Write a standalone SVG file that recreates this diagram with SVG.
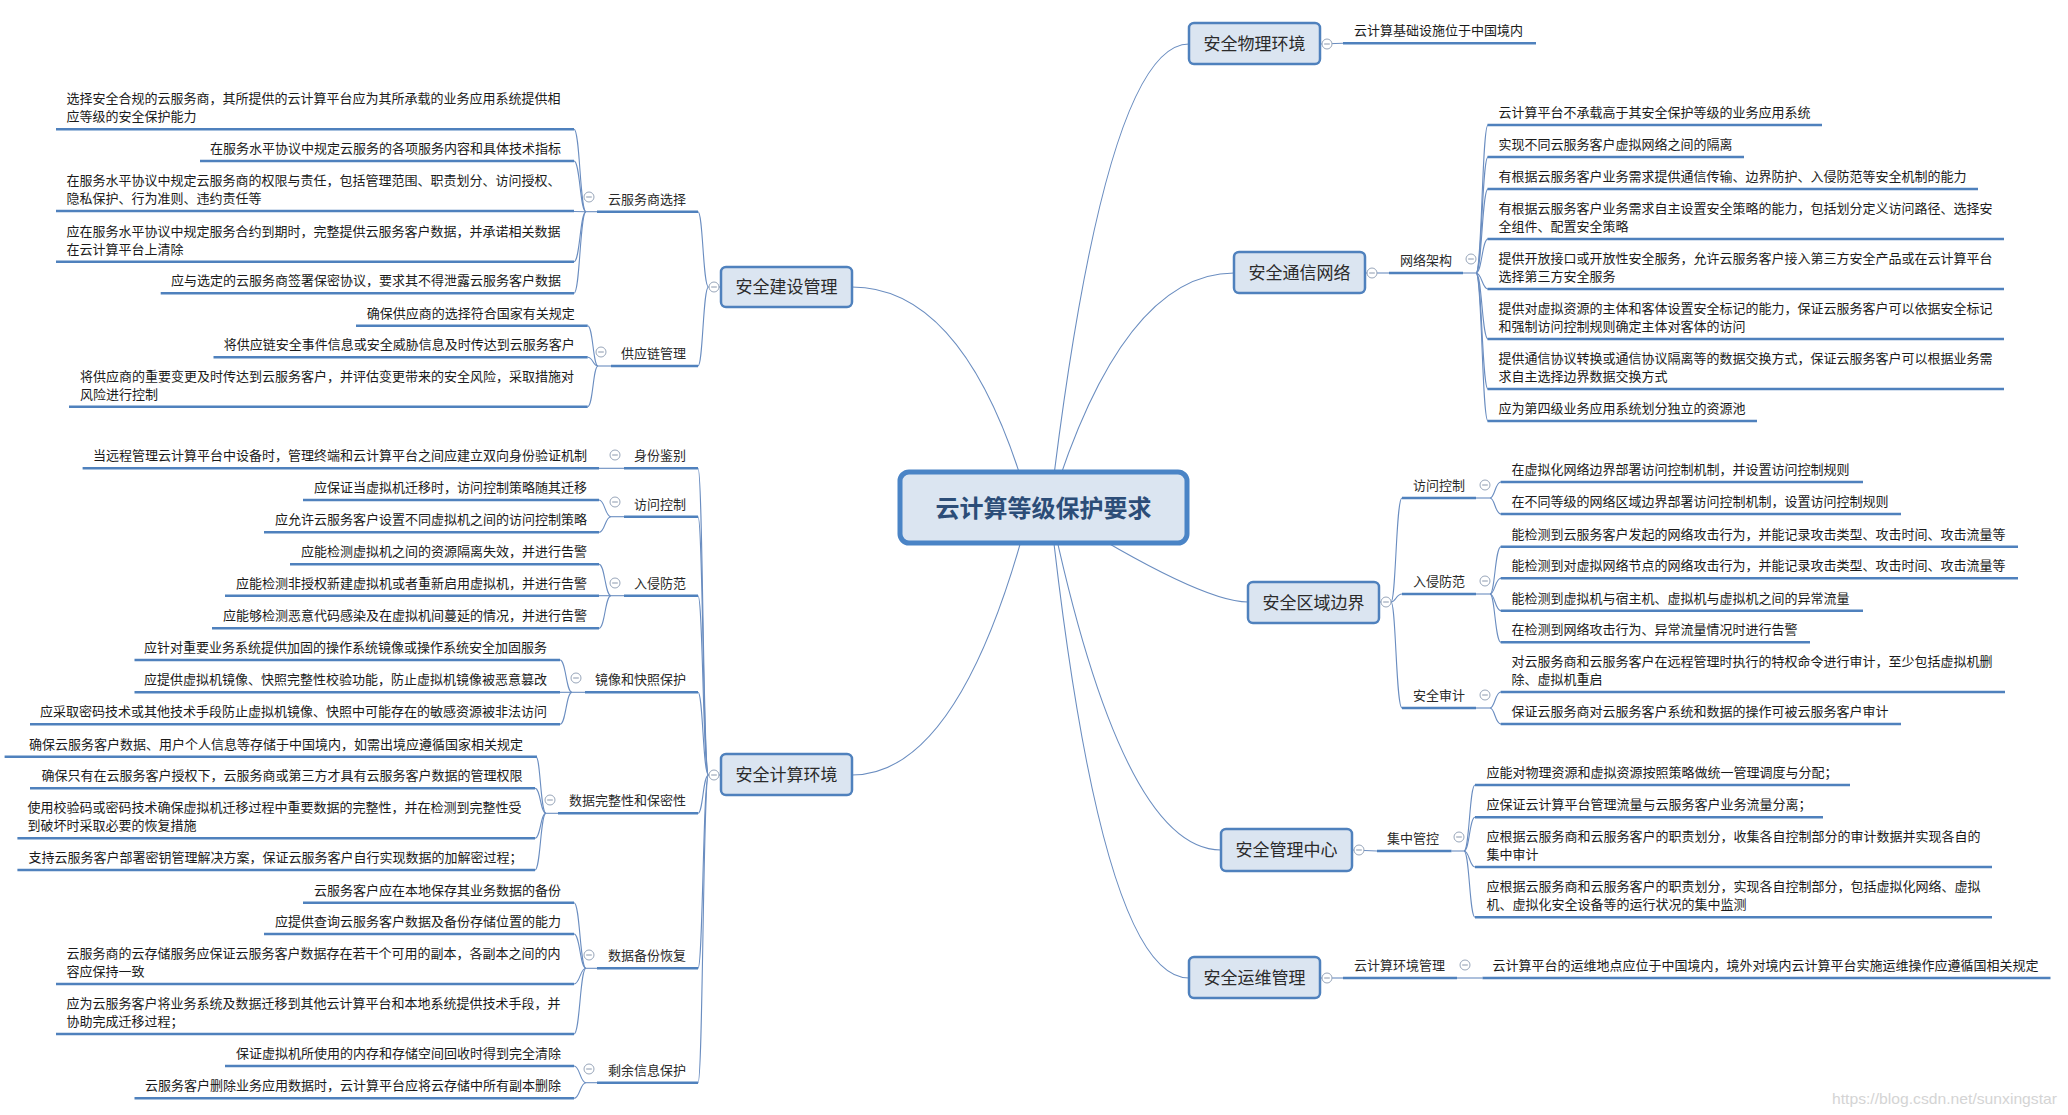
<svg xmlns="http://www.w3.org/2000/svg" width="2068" height="1115" viewBox="0 0 2068 1115">
<defs>
<style>
.ul{stroke:#4f81bd;stroke-width:2.6;fill:none}
.cn{stroke:#6a8dc0;stroke-width:1.1;fill:none}
.t{font-family:"Noto Sans CJK SC","Microsoft YaHei",sans-serif;font-size:13px;fill:#1a1a1a}
.e{text-anchor:end}
.l2{font-family:"Noto Sans CJK SC",sans-serif;font-size:13px;fill:#2a2a2a}
.box{fill:#dbe5f1;stroke:#4f81bd;stroke-width:2.5}
.bt{font-family:"Noto Sans CJK SC",sans-serif;font-size:17px;fill:#2b2b2b;text-anchor:middle}
.dot{fill:#fff;stroke:#98a6ba;stroke-width:1}
.mn{stroke:#8a98ad;stroke-width:1}
</style>
<g id="col"><circle class="dot" r="5"/><line class="mn" x1="-2.8" y1="0" x2="2.8" y2="0"/></g>
</defs>
<rect width="2068" height="1115" fill="#fff"/>

<g id="connectors">
<!-- central to main -->
<path class="cn" d="M1050,508 Q1105,44 1189,44"/>
<path class="cn" d="M1050,508 Q1122,273 1234,273"/>
<path class="cn" d="M1050,508 Q1200,602 1248,602"/>
<path class="cn" d="M1050,508 Q1122,850 1221,850"/>
<path class="cn" d="M1050,508 Q1101,978 1189,978"/>
<path class="cn" d="M1030,508 Q968,287 852,287"/>
<path class="cn" d="M1030,508 Q961,775 852,775"/>
<!-- right: physical -->
<path class="cn" d="M1320,44 L1343,43.3"/>
<!-- right: comm -->
<path class="cn" d="M1365,273 L1389,273"/>
<path class="cn" d="M1463,273 L1476,273"/>
<path class="cn" d="M1476,273 C1482,273 1482,125 1488,125"/>
<path class="cn" d="M1476,273 C1482,273 1482,157 1488,157"/>
<path class="cn" d="M1476,273 C1482,273 1482,189 1488,189"/>
<path class="cn" d="M1476,273 C1482,273 1482,239 1488,239"/>
<path class="cn" d="M1476,273 C1482,273 1482,289 1488,289"/>
<path class="cn" d="M1476,273 C1482,273 1482,339 1488,339"/>
<path class="cn" d="M1476,273 C1482,273 1482,389 1488,389"/>
<path class="cn" d="M1476,273 C1482,273 1482,421 1488,421"/>
<!-- right: boundary -->
<path class="cn" d="M1379,602 L1391,602"/>
<path class="cn" d="M1391,602 C1396,602 1396,498 1402,498"/>
<path class="cn" d="M1391,602 C1396,602 1396,594 1402,594"/>
<path class="cn" d="M1391,602 C1396,602 1396,708 1402,708"/>
<path class="cn" d="M1476,498 L1490,498"/>
<path class="cn" d="M1490,498 C1495,498 1495,482 1501,482"/>
<path class="cn" d="M1490,498 C1495,498 1495,514 1501,514"/>
<path class="cn" d="M1476,594 L1490,594"/>
<path class="cn" d="M1490,594 C1495,594 1495,546.7 1501,546.7"/>
<path class="cn" d="M1490,594 C1495,594 1495,578.3 1501,578.3"/>
<path class="cn" d="M1490,594 C1495,594 1495,610.7 1501,610.7"/>
<path class="cn" d="M1490,594 C1495,594 1495,642.3 1501,642.3"/>
<path class="cn" d="M1476,708 L1490,708"/>
<path class="cn" d="M1490,708 C1495,708 1495,692 1501,692"/>
<path class="cn" d="M1490,708 C1495,708 1495,724 1501,724"/>
<!-- right: mgmt center -->
<path class="cn" d="M1352,850 L1377,851"/>
<path class="cn" d="M1451.5,851 L1464,851"/>
<path class="cn" d="M1464,851 C1469.5,851 1469.5,785 1475,785"/>
<path class="cn" d="M1464,851 C1469.5,851 1469.5,817.3 1475,817.3"/>
<path class="cn" d="M1464,851 C1469.5,851 1469.5,867 1475,867"/>
<path class="cn" d="M1464,851 C1469.5,851 1469.5,917.3 1475,917.3"/>
<!-- right: ops -->
<path class="cn" d="M1320,978 L1343,978"/>
<path class="cn" d="M1457,978 L1482.5,978"/>
<!-- left: construction -->
<path class="cn" d="M721,287 L708.5,287"/>
<path class="cn" d="M708.5,287 C703,287 703,211.7 698,211.7"/>
<path class="cn" d="M708.5,287 C703,287 703,366 698,366"/>
<path class="cn" d="M597,211.7 L586,211.7"/>
<path class="cn" d="M586,211.7 C580,211.7 580,129.3 574,129.3"/>
<path class="cn" d="M586,211.7 C580,211.7 580,161 574,161"/>
<path class="cn" d="M586,211.7 L574,211.5"/>
<path class="cn" d="M586,211.7 C580,211.7 580,261.7 574,261.7"/>
<path class="cn" d="M586,211.7 C580,211.7 580,293.3 574,293.3"/>
<path class="cn" d="M611,366 L598,366"/>
<path class="cn" d="M598,366 C593,366 593,325.7 587.7,325.7"/>
<path class="cn" d="M598,366 C593,366 593,357.3 587.7,357.3"/>
<path class="cn" d="M598,366 C593,366 593,406.7 587.7,406.7"/>
<!-- left: compute -->
<path class="cn" d="M721,775 L708.5,775"/>
<path class="cn" d="M708.5,775 C703,775 703,468.3 698,468.3"/>
<path class="cn" d="M708.5,775 C703,775 703,516.7 698,516.7"/>
<path class="cn" d="M708.5,775 C703,775 703,595.7 698,595.7"/>
<path class="cn" d="M708.5,775 C703,775 703,692.3 698,692.3"/>
<path class="cn" d="M708.5,775 C703,775 703,813.3 698,813.3"/>
<path class="cn" d="M708.5,775 C703,775 703,968.3 698,968.3"/>
<path class="cn" d="M708.5,775 C703,775 703,1082.7 698,1082.7"/>
<path class="cn" d="M624,468.3 L599,468.3"/>
<path class="cn" d="M624,516.7 L611,516.7"/>
<path class="cn" d="M611,516.7 C605,516.7 605,500 599,500"/>
<path class="cn" d="M611,516.7 C605,516.7 605,532.3 599,532.3"/>
<path class="cn" d="M624,595.7 L611,595.7"/>
<path class="cn" d="M611,595.7 C605,595.7 605,564.3 599,564.3"/>
<path class="cn" d="M611,595.7 L599,595.7"/>
<path class="cn" d="M611,595.7 C605,595.7 605,628.3 599,628.3"/>
<path class="cn" d="M585,692.3 L572,692.3"/>
<path class="cn" d="M572,692.3 C566,692.3 566,660 560,660"/>
<path class="cn" d="M572,692.3 L560,692.3"/>
<path class="cn" d="M572,692.3 C566,692.3 566,724.3 560,724.3"/>
<path class="cn" d="M558,813.3 L546,813.3"/>
<path class="cn" d="M546,813.3 C540.5,813.3 540.5,756.7 536,756.7"/>
<path class="cn" d="M546,813.3 C540.5,813.3 540.5,788.3 535,788.3"/>
<path class="cn" d="M546,813.3 C540.5,813.3 540.5,838.3 535,838.3"/>
<path class="cn" d="M546,813.3 C540.5,813.3 540.5,870 535,870"/>
<path class="cn" d="M597,968.3 L586,968.3"/>
<path class="cn" d="M586,968.3 C580,968.3 580,902.7 574,902.7"/>
<path class="cn" d="M586,968.3 C580,968.3 580,934 574,934"/>
<path class="cn" d="M586,968.3 C580,968.3 580,984 574,984"/>
<path class="cn" d="M586,968.3 C580,968.3 580,1034 574,1034"/>
<path class="cn" d="M597,1082.7 L586,1082.7"/>
<path class="cn" d="M586,1082.7 C580,1082.7 580,1066 574,1066"/>
<path class="cn" d="M586,1082.7 C580,1082.7 580,1098.3 574,1098.3"/>
</g>

<!-- central -->
<g id="root">
<rect x="900" y="472" width="287" height="71" rx="9" fill="#dbe5f1" stroke="#4a84c6" stroke-width="5"/>
<text x="1043.5" y="517" text-anchor="middle" font-family="'Noto Sans CJK SC',sans-serif" font-size="24" font-weight="bold" fill="#2c4d78">云计算等级保护要求</text>
</g>

<!-- main nodes -->
<g id="n-wuli"><rect class="box" x="1189" y="23" width="131" height="41" rx="5"/><text class="bt" x="1254.5" y="49.5">安全物理环境</text><use href="#col" x="1327" y="44"/></g>
<g id="n-tongxin"><rect class="box" x="1234" y="252" width="131" height="41" rx="5"/><text class="bt" x="1299.5" y="278.5">安全通信网络</text><use href="#col" x="1372" y="273"/></g>
<g id="n-quyu"><rect class="box" x="1248" y="582" width="131" height="41" rx="5"/><text class="bt" x="1313.5" y="608.5">安全区域边界</text><use href="#col" x="1386" y="602"/></g>
<g id="n-guanli"><rect class="box" x="1221" y="829" width="131" height="42" rx="5"/><text class="bt" x="1286.5" y="856">安全管理中心</text><use href="#col" x="1359" y="850"/></g>
<g id="n-yunwei"><rect class="box" x="1189" y="957" width="131" height="41" rx="5"/><text class="bt" x="1254.5" y="983.5">安全运维管理</text><use href="#col" x="1327" y="978"/></g>
<g id="n-jianshe"><rect class="box" x="721" y="267" width="131" height="40" rx="5"/><text class="bt" x="786.5" y="293">安全建设管理</text><use href="#col" x="714" y="287"/></g>
<g id="n-jisuan"><rect class="box" x="721" y="754" width="131" height="41" rx="5"/><text class="bt" x="786.5" y="780.5">安全计算环境</text><use href="#col" x="714" y="775"/></g>

<!-- right subtopics -->
<g id="r-wuli-1"><line class="ul" x1="1343" y1="43.3" x2="1536" y2="43.3"/><text class="t" x="1354" y="35.3">云计算基础设施位于中国境内</text></g>

<g id="r-wljg"><line class="ul" x1="1389" y1="273" x2="1463" y2="273"/><text class="l2" x="1400" y="265">网络架构</text><use href="#col" x="1471" y="259"/></g>
<g id="r-wljg-1"><line class="ul" x1="1487.5" y1="125" x2="1822" y2="125"/><text class="t" x="1498.5" y="117">云计算平台不承载高于其安全保护等级的业务应用系统</text></g>
<g id="r-wljg-2"><line class="ul" x1="1487.5" y1="157" x2="1744" y2="157"/><text class="t" x="1498.5" y="149">实现不同云服务客户虚拟网络之间的隔离</text></g>
<g id="r-wljg-3"><line class="ul" x1="1487.5" y1="189" x2="1978" y2="189"/><text class="t" x="1498.5" y="181">有根据云服务客户业务需求提供通信传输、边界防护、入侵防范等安全机制的能力</text></g>
<g id="r-wljg-4"><line class="ul" x1="1487.5" y1="239" x2="2004" y2="239"/><text class="t" x="1498.5" y="213">有根据云服务客户业务需求自主设置安全策略的能力，包括划分定义访问路径、选择安</text><text class="t" x="1498.5" y="231">全组件、配置安全策略</text></g>
<g id="r-wljg-5"><line class="ul" x1="1487.5" y1="289" x2="2004" y2="289"/><text class="t" x="1498.5" y="263">提供开放接口或开放性安全服务，允许云服务客户接入第三方安全产品或在云计算平台</text><text class="t" x="1498.5" y="281">选择第三方安全服务</text></g>
<g id="r-wljg-6"><line class="ul" x1="1487.5" y1="339" x2="2004" y2="339"/><text class="t" x="1498.5" y="313">提供对虚拟资源的主体和客体设置安全标记的能力，保证云服务客户可以依据安全标记</text><text class="t" x="1498.5" y="331">和强制访问控制规则确定主体对客体的访问</text></g>
<g id="r-wljg-7"><line class="ul" x1="1487.5" y1="389" x2="2004" y2="389"/><text class="t" x="1498.5" y="363">提供通信协议转换或通信协议隔离等的数据交换方式，保证云服务客户可以根据业务需</text><text class="t" x="1498.5" y="381">求自主选择边界数据交换方式</text></g>
<g id="r-wljg-8"><line class="ul" x1="1487.5" y1="421" x2="1757" y2="421"/><text class="t" x="1498.5" y="413">应为第四级业务应用系统划分独立的资源池</text></g>

<g id="r-fwkz"><line class="ul" x1="1402" y1="498" x2="1476" y2="498"/><text class="l2" x="1413" y="490">访问控制</text><use href="#col" x="1485" y="485"/></g>
<g id="r-fwkz-1"><line class="ul" x1="1500.7" y1="482" x2="1863" y2="482"/><text class="t" x="1511.6" y="474">在虚拟化网络边界部署访问控制机制，并设置访问控制规则</text></g>
<g id="r-fwkz-2"><line class="ul" x1="1500.7" y1="514" x2="1901" y2="514"/><text class="t" x="1511.6" y="506">在不同等级的网络区域边界部署访问控制机制，设置访问控制规则</text></g>
<g id="r-rqff"><line class="ul" x1="1402" y1="594" x2="1476" y2="594"/><text class="l2" x="1413" y="586">入侵防范</text><use href="#col" x="1485" y="581"/></g>
<g id="r-rqff-1"><line class="ul" x1="1500.7" y1="546.7" x2="2018" y2="546.7"/><text class="t" x="1511.6" y="538.7">能检测到云服务客户发起的网络攻击行为，并能记录攻击类型、攻击时间、攻击流量等</text></g>
<g id="r-rqff-2"><line class="ul" x1="1500.7" y1="578.3" x2="2018" y2="578.3"/><text class="t" x="1511.6" y="570.3">能检测到对虚拟网络节点的网络攻击行为，并能记录攻击类型、攻击时间、攻击流量等</text></g>
<g id="r-rqff-3"><line class="ul" x1="1500.7" y1="610.7" x2="1863" y2="610.7"/><text class="t" x="1511.6" y="602.7">能检测到虚拟机与宿主机、虚拟机与虚拟机之间的异常流量</text></g>
<g id="r-rqff-4"><line class="ul" x1="1500.7" y1="642.3" x2="1810" y2="642.3"/><text class="t" x="1511.6" y="634.3">在检测到网络攻击行为、异常流量情况时进行告警</text></g>
<g id="r-aqsj"><line class="ul" x1="1402" y1="708" x2="1476" y2="708"/><text class="l2" x="1413" y="700">安全审计</text><use href="#col" x="1485" y="695"/></g>
<g id="r-aqsj-1"><line class="ul" x1="1500.7" y1="692" x2="2005" y2="692"/><text class="t" x="1511.6" y="666">对云服务商和云服务客户在远程管理时执行的特权命令进行审计，至少包括虚拟机删</text><text class="t" x="1511.6" y="684">除、虚拟机重启</text></g>
<g id="r-aqsj-2"><line class="ul" x1="1500.7" y1="724" x2="1901" y2="724"/><text class="t" x="1511.6" y="716">保证云服务商对云服务客户系统和数据的操作可被云服务客户审计</text></g>

<g id="r-jzgk"><line class="ul" x1="1377" y1="851" x2="1451.5" y2="851"/><text class="l2" x="1387" y="843">集中管控</text><use href="#col" x="1459" y="837"/></g>
<g id="r-jzgk-1"><line class="ul" x1="1475" y1="785" x2="1850" y2="785"/><text class="t" x="1486.6" y="777">应能对物理资源和虚拟资源按照策略做统一管理调度与分配；</text></g>
<g id="r-jzgk-2"><line class="ul" x1="1475" y1="817.3" x2="1823" y2="817.3"/><text class="t" x="1486.6" y="809.3">应保证云计算平台管理流量与云服务客户业务流量分离；</text></g>
<g id="r-jzgk-3"><line class="ul" x1="1475" y1="867" x2="1992" y2="867"/><text class="t" x="1486.6" y="841">应根据云服务商和云服务客户的职责划分，收集各自控制部分的审计数据并实现各自的</text><text class="t" x="1486.6" y="859">集中审计</text></g>
<g id="r-jzgk-4"><line class="ul" x1="1475" y1="917.3" x2="1992" y2="917.3"/><text class="t" x="1486.6" y="891.3">应根据云服务商和云服务客户的职责划分，实现各自控制部分，包括虚拟化网络、虚拟</text><text class="t" x="1486.6" y="909.3">机、虚拟化安全设备等的运行状况的集中监测</text></g>

<g id="r-yjshj"><line class="ul" x1="1343" y1="978" x2="1457" y2="978"/><text class="l2" x="1354" y="970">云计算环境管理</text><use href="#col" x="1465" y="965"/></g>
<g id="r-yjshj-1"><line class="ul" x1="1482.5" y1="978" x2="2050.5" y2="978"/><text class="t" x="1492.5" y="970">云计算平台的运维地点应位于中国境内，境外对境内云计算平台实施运维操作应遵循国相关规定</text></g>

<!-- left subtopics -->
<g id="l-yfws"><line class="ul" x1="597" y1="211.7" x2="698" y2="211.7"/><text class="l2 e" x="686" y="203.7">云服务商选择</text><use href="#col" x="589" y="197"/></g>
<g id="l-yfws-1"><line class="ul" x1="56" y1="129.3" x2="574" y2="129.3"/><text class="t" x="66.6" y="103.3">选择安全合规的云服务商，其所提供的云计算平台应为其所承载的业务应用系统提供相</text><text class="t" x="66.6" y="121.3">应等级的安全保护能力</text></g>
<g id="l-yfws-2"><line class="ul" x1="200" y1="161" x2="574" y2="161"/><text class="t e" x="561" y="153">在服务水平协议中规定云服务的各项服务内容和具体技术指标</text></g>
<g id="l-yfws-3"><line class="ul" x1="56" y1="211" x2="574" y2="211"/><text class="t" x="66.6" y="185">在服务水平协议中规定云服务商的权限与责任，包括管理范围、职责划分、访问授权、</text><text class="t" x="66.6" y="203">隐私保护、行为准则、违约责任等</text></g>
<g id="l-yfws-4"><line class="ul" x1="56" y1="261.7" x2="574" y2="261.7"/><text class="t" x="66.6" y="235.7">应在服务水平协议中规定服务合约到期时，完整提供云服务客户数据，并承诺相关数据</text><text class="t" x="66.6" y="253.7">在云计算平台上清除</text></g>
<g id="l-yfws-5"><line class="ul" x1="160.7" y1="293.3" x2="574" y2="293.3"/><text class="t e" x="561" y="285.3">应与选定的云服务商签署保密协议，要求其不得泄露云服务客户数据</text></g>

<g id="l-gyl"><line class="ul" x1="611" y1="366" x2="698" y2="366"/><text class="l2 e" x="686" y="358">供应链管理</text><use href="#col" x="601" y="352"/></g>
<g id="l-gyl-1"><line class="ul" x1="356" y1="325.7" x2="587.7" y2="325.7"/><text class="t e" x="574.7" y="317.7">确保供应商的选择符合国家有关规定</text></g>
<g id="l-gyl-2"><line class="ul" x1="213.5" y1="357.3" x2="587.7" y2="357.3"/><text class="t e" x="574.7" y="349.3">将供应链安全事件信息或安全威胁信息及时传达到云服务客户</text></g>
<g id="l-gyl-3"><line class="ul" x1="69" y1="406.7" x2="587.7" y2="406.7"/><text class="t" x="80" y="380.7">将供应商的重要变更及时传达到云服务客户，并评估变更带来的安全风险，采取措施对</text><text class="t" x="80" y="398.7">风险进行控制</text></g>

<g id="l-sfjb"><line class="ul" x1="624" y1="468.3" x2="698" y2="468.3"/><text class="l2 e" x="686" y="460.3">身份鉴别</text><use href="#col" x="615" y="455"/></g>
<g id="l-sfjb-1"><line class="ul" x1="82.6" y1="468.3" x2="599" y2="468.3"/><text class="t e" x="587" y="460.3">当远程管理云计算平台中设备时，管理终端和云计算平台之间应建立双向身份验证机制</text></g>

<g id="l-fwkz"><line class="ul" x1="624" y1="516.7" x2="698" y2="516.7"/><text class="l2 e" x="686" y="508.7">访问控制</text><use href="#col" x="615" y="502"/></g>
<g id="l-fwkz-1"><line class="ul" x1="303" y1="500" x2="599" y2="500"/><text class="t e" x="587" y="492">应保证当虚拟机迁移时，访问控制策略随其迁移</text></g>
<g id="l-fwkz-2"><line class="ul" x1="264" y1="532.3" x2="599" y2="532.3"/><text class="t e" x="587" y="524.3">应允许云服务客户设置不同虚拟机之间的访问控制策略</text></g>

<g id="l-rqff"><line class="ul" x1="624" y1="595.7" x2="698" y2="595.7"/><text class="l2 e" x="686" y="587.7">入侵防范</text><use href="#col" x="615" y="583"/></g>
<g id="l-rqff-1"><line class="ul" x1="290" y1="564.3" x2="599" y2="564.3"/><text class="t e" x="587" y="556.3">应能检测虚拟机之间的资源隔离失效，并进行告警</text></g>
<g id="l-rqff-2"><line class="ul" x1="225" y1="595.7" x2="599" y2="595.7"/><text class="t e" x="587" y="587.7">应能检测非授权新建虚拟机或者重新启用虚拟机，并进行告警</text></g>
<g id="l-rqff-3"><line class="ul" x1="212" y1="628.3" x2="599" y2="628.3"/><text class="t e" x="587" y="620.3">应能够检测恶意代码感染及在虚拟机间蔓延的情况，并进行告警</text></g>

<g id="l-jxkz"><line class="ul" x1="585" y1="692.3" x2="698" y2="692.3"/><text class="l2 e" x="686" y="684.3">镜像和快照保护</text><use href="#col" x="576" y="678"/></g>
<g id="l-jxkz-1"><line class="ul" x1="134.5" y1="660" x2="560" y2="660"/><text class="t e" x="547" y="652">应针对重要业务系统提供加固的操作系统镜像或操作系统安全加固服务</text></g>
<g id="l-jxkz-2"><line class="ul" x1="134.5" y1="692.3" x2="560" y2="692.3"/><text class="t e" x="547" y="684.3">应提供虚拟机镜像、快照完整性校验功能，防止虚拟机镜像被恶意篡改</text></g>
<g id="l-jxkz-3"><line class="ul" x1="30" y1="724.3" x2="560" y2="724.3"/><text class="t e" x="547" y="716.3">应采取密码技术或其他技术手段防止虚拟机镜像、快照中可能存在的敏感资源被非法访问</text></g>

<g id="l-sjwz"><line class="ul" x1="558" y1="813.3" x2="698" y2="813.3"/><text class="l2 e" x="686" y="805.3">数据完整性和保密性</text><use href="#col" x="550" y="800"/></g>
<g id="l-sjwz-1"><line class="ul" x1="4.6" y1="756.7" x2="537" y2="756.7"/><text class="t e" x="523" y="748.7">确保云服务客户数据、用户个人信息等存储于中国境内，如需出境应遵循国家相关规定</text></g>
<g id="l-sjwz-2"><line class="ul" x1="30" y1="788.3" x2="535" y2="788.3"/><text class="t e" x="522.5" y="780.3">确保只有在云服务客户授权下，云服务商或第三方才具有云服务客户数据的管理权限</text></g>
<g id="l-sjwz-3"><line class="ul" x1="17.4" y1="838.3" x2="535" y2="838.3"/><text class="t" x="27.5" y="812.3">使用校验码或密码技术确保虚拟机迁移过程中重要数据的完整性，并在检测到完整性受</text><text class="t" x="27.5" y="830.3">到破坏时采取必要的恢复措施</text></g>
<g id="l-sjwz-4"><line class="ul" x1="17.4" y1="870" x2="535" y2="870"/><text class="t e" x="522.5" y="862">支持云服务客户部署密钥管理解决方案，保证云服务客户自行实现数据的加解密过程；</text></g>

<g id="l-sjbf"><line class="ul" x1="597" y1="968.3" x2="698" y2="968.3"/><text class="l2 e" x="686" y="960.3">数据备份恢复</text><use href="#col" x="589" y="955"/></g>
<g id="l-sjbf-1"><line class="ul" x1="303" y1="902.7" x2="574" y2="902.7"/><text class="t e" x="561" y="894.7">云服务客户应在本地保存其业务数据的备份</text></g>
<g id="l-sjbf-2"><line class="ul" x1="264" y1="934" x2="574" y2="934"/><text class="t e" x="561" y="926">应提供查询云服务客户数据及备份存储位置的能力</text></g>
<g id="l-sjbf-3"><line class="ul" x1="56" y1="984" x2="574" y2="984"/><text class="t" x="66.6" y="958">云服务商的云存储服务应保证云服务客户数据存在若干个可用的副本，各副本之间的内</text><text class="t" x="66.6" y="976">容应保持一致</text></g>
<g id="l-sjbf-4"><line class="ul" x1="56" y1="1034" x2="574" y2="1034"/><text class="t" x="66.6" y="1008">应为云服务客户将业务系统及数据迁移到其他云计算平台和本地系统提供技术手段，并</text><text class="t" x="66.6" y="1026">协助完成迁移过程；</text></g>

<g id="l-syxx"><line class="ul" x1="597" y1="1082.7" x2="698" y2="1082.7"/><text class="l2 e" x="686" y="1074.7">剩余信息保护</text><use href="#col" x="589" y="1069"/></g>
<g id="l-syxx-1"><line class="ul" x1="225" y1="1066" x2="574" y2="1066"/><text class="t e" x="561" y="1058">保证虚拟机所使用的内存和存储空间回收时得到完全清除</text></g>
<g id="l-syxx-2"><line class="ul" x1="134.5" y1="1098.3" x2="574" y2="1098.3"/><text class="t e" x="561" y="1090.3">云服务客户删除业务应用数据时，云计算平台应将云存储中所有副本删除</text></g>

<text x="1832" y="1104" font-family="'Liberation Sans',sans-serif" font-size="15" fill="#d4d4d4" textLength="225" lengthAdjust="spacingAndGlyphs">https://blog.csdn.net/sunxingstar</text>
</svg>
